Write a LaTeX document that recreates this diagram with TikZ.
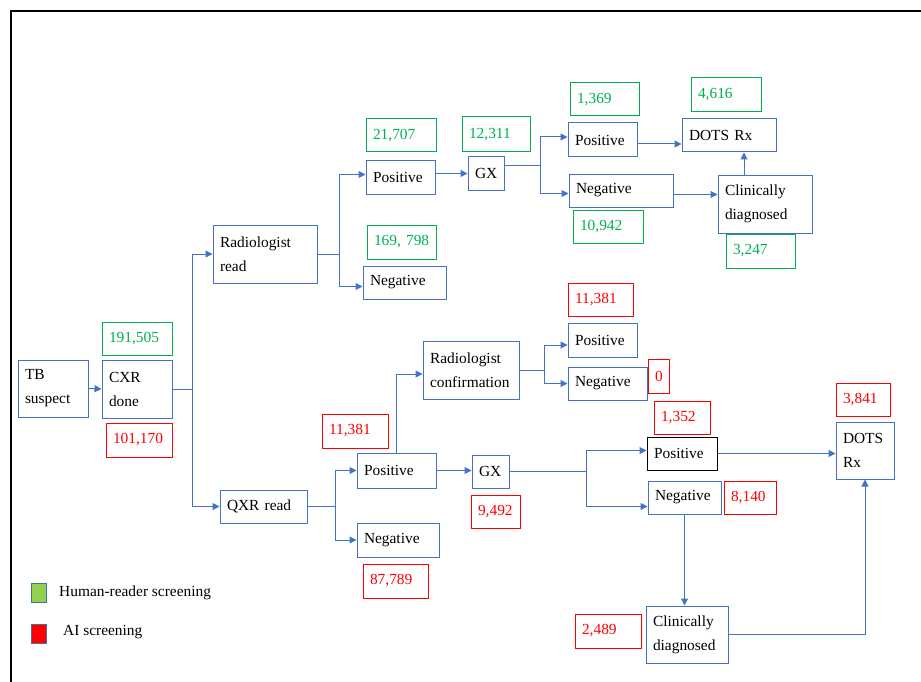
\documentclass[tikz,border=0pt]{standalone}
\usepackage{fontspec}
\setmainfont{Liberation Serif}
\usetikzlibrary{arrows.meta,calc}
\definecolor{bblue}{HTML}{4472C4}
\definecolor{lblue}{HTML}{5B82CF}
\definecolor{ggreen}{HTML}{00B050}
\definecolor{rred}{HTML}{FF0000}
\definecolor{legg}{HTML}{92D050}
\definecolor{legb}{HTML}{41719C}
\tikzset{
  base/.style={draw, line width=1pt, inner xsep=7pt, inner ysep=0pt, align=left,
    font=\fontsize{15.4}{24}\selectfont},
  box/.style={base, draw=bblue, text=black},
  kbox/.style={base, draw=black, text=black},
  gbox/.style={base, draw=ggreen, text=ggreen},
  rbox/.style={base, draw=rred, text=rred},
  conn/.style={draw=lblue, line width=1pt},
  arr/.style={conn, -{Triangle[length=7pt,width=7pt]}, bblue},
  legsq/.style={draw=legb, line width=1pt, minimum width=15pt, minimum height=19pt, inner sep=0pt},
  legtx/.style={anchor=west, inner sep=2pt, font=\fontsize{15.4}{18}\selectfont}
}
\newcommand\bx[7]{%
  \pgfmathsetmacro\bxw{#4-#2}\pgfmathsetmacro\bxh{#5-#3}\pgfmathsetmacro\bxt{#4-#2-14}%
  \node[#6, minimum width=\bxw pt, minimum height=\bxh pt, text width=\bxt pt] (#1) at ({(#2+#4)/2},{(#3+#5)/2}) {#7};}
\begin{document}
\begin{tikzpicture}[x=1pt,y=-1pt]
\useasboundingbox (0,0) rectangle (921,682);
\draw[line width=2pt] (11,682) -- (11,11) -- (921,11);

% left part
\bx{TB}{18}{360}{88}{417}{box}{TB\\suspect}
\bx{CXR}{102}{360}{172}{418}{box}{CXR\\done}
\bx{g1}{102}{322}{172}{355}{gbox}{191,505}
\bx{r1}{106}{423}{172}{457}{rbox}{101,170}

% human branch
\bx{RR}{213}{225}{317}{283}{box}{Radiologist\\read}
\bx{Pos1}{366}{161}{435}{194}{box}{Positive}
\bx{g2}{366}{119}{436}{152}{gbox}{21,707}
\bx{Neg1}{363}{266}{446}{299}{box}{Negative}
\bx{g3}{367}{225}{436}{259}{gbox}{169,~798}
\bx{GX1}{468}{157}{504}{190}{box}{GX}
\bx{g4}{462}{117}{530}{152}{gbox}{12,311}
\bx{Pos2}{568}{123}{637}{157}{box}{Positive}
\bx{g5}{570}{83}{639}{116}{gbox}{1,369}
\bx{Neg2}{569}{174}{673}{207}{box}{Negative}
\bx{g6}{573}{210}{643}{243}{gbox}{10,942}
\bx{DOTS1}{682}{119}{776}{152}{box}{DOTS Rx}
\bx{g7}{691}{78}{761}{112}{gbox}{4,616}
\bx{Clin1}{718}{175}{812}{233}{box}{Clinically\\diagnosed}
\bx{g8}{726}{234}{795}{268}{gbox}{3,247}

% AI branch
\bx{QXR}{220}{490}{307}{523}{box}{QXR read}
\bx{Pos3}{357}{453}{436}{488}{box}{Positive}
\bx{r2}{322}{414}{388}{448}{rbox}{11,381}
\bx{Neg3}{357}{523}{439}{557}{box}{Negative}
\bx{r3}{363}{564}{428}{598}{rbox}{87,789}
\bx{RC}{423}{341}{519}{399}{box}{Radiologist\\confirmation}
\bx{Pos4}{568}{323}{637}{357}{box}{Positive}
\bx{r4}{568}{283}{633}{316}{rbox}{11,381}
\bx{Neg4}{568}{367}{647}{400}{box}{Negative}
\bx{r5}{648}{359}{669}{393}{rbox}{0}
\bx{GX2}{472}{455}{509}{488}{box}{GX}
\bx{r6}{471}{495}{520}{528}{rbox}{9,492}
\bx{Pos5}{647}{437}{717}{470}{kbox}{Positive}
\bx{r7}{654}{401}{710}{434}{rbox}{1,352}
\bx{Neg5}{648}{481}{721}{514}{box}{Negative}
\bx{r8}{724}{481}{776}{514}{rbox}{8,140}
\bx{DOTS2}{836}{422}{894}{479}{box}{DOTS\\Rx}
\bx{r9}{836}{383}{890}{416}{rbox}{3,841}
\bx{Clin2}{646}{606}{728}{663}{box}{Clinically\\diagnosed}
\bx{r10}{575}{614}{641}{648}{rbox}{2,489}

% connectors
\draw[arr] (TB.east) -- (CXR.west);
\draw[arr] (CXR.east) -- ++(20,0) |- (RR.west);
\draw[arr] (CXR.east) -- ++(20,0) |- (QXR.west);

\draw[arr] (RR.east) -- ++(22,0) |- ([yshift=3pt]Pos1.west);
\draw[arr] (RR.east) -- ++(22,0) |- ([yshift=-4pt]Neg1.west);
\draw[arr] (Pos1.east |- GX1.west) -- (GX1.west);
\draw[arr] ([yshift=8pt]GX1.east) -- ++(36,0) |- ([yshift=3pt]Pos2.west);
\draw[arr] ([yshift=8pt]GX1.east) -- ++(36,0) |- ([yshift=-3pt]Neg2.west);
\draw[arr] ([yshift=-4pt]Pos2.east) -- ([yshift=-4pt]Pos2.east -| DOTS1.west);
\draw[arr] ([yshift=-4pt]Neg2.east) -- ([yshift=-4pt]Neg2.east -| Clin1.west);
\coordinate (c1) at ([xshift=-21pt]Clin1.north);
\draw[arr] (c1) -- (c1 |- DOTS1.south);

\draw[arr] (QXR.east) -- ++(28,0) |- (Pos3.west);
\draw[arr] (QXR.east) -- ++(28,0) |- (Neg3.west);
\draw[arr] (Pos3.north) |- ([yshift=-4pt]RC.west);
\draw[arr] (RC.east) -- ++(25,0) |- ([yshift=-5pt]Pos4.west);
\draw[arr] (RC.east) -- ++(25,0) |- (Neg4.west);
\draw[arr] (Pos3.east) -- (Pos3.east -| GX2.west);
\draw[arr] (GX2.east) -- ++(77,0) |- ([yshift=3pt]Pos5.west);
\draw[arr] (GX2.east) -- ++(77,0) |- ([yshift=-9pt]Neg5.west);
\draw[arr] (Pos5.east) -- (Pos5.east -| DOTS2.west);
\draw[arr] (Neg5.south) -- (Neg5.south |- Clin2.north);
\draw[arr] (Clin2.east) -| (DOTS2.south);

% legend
\node[legsq, fill=legg] (lg) at (38.5,592.5) {};
\node[legsq, fill=rred] (lr) at (38.5,633.5) {};
\node[legtx] (lgt) at (57,593) {Human-reader screening};
\node[legtx] (lrt) at (61,632) {AI screening};
\end{tikzpicture}
\end{document}
